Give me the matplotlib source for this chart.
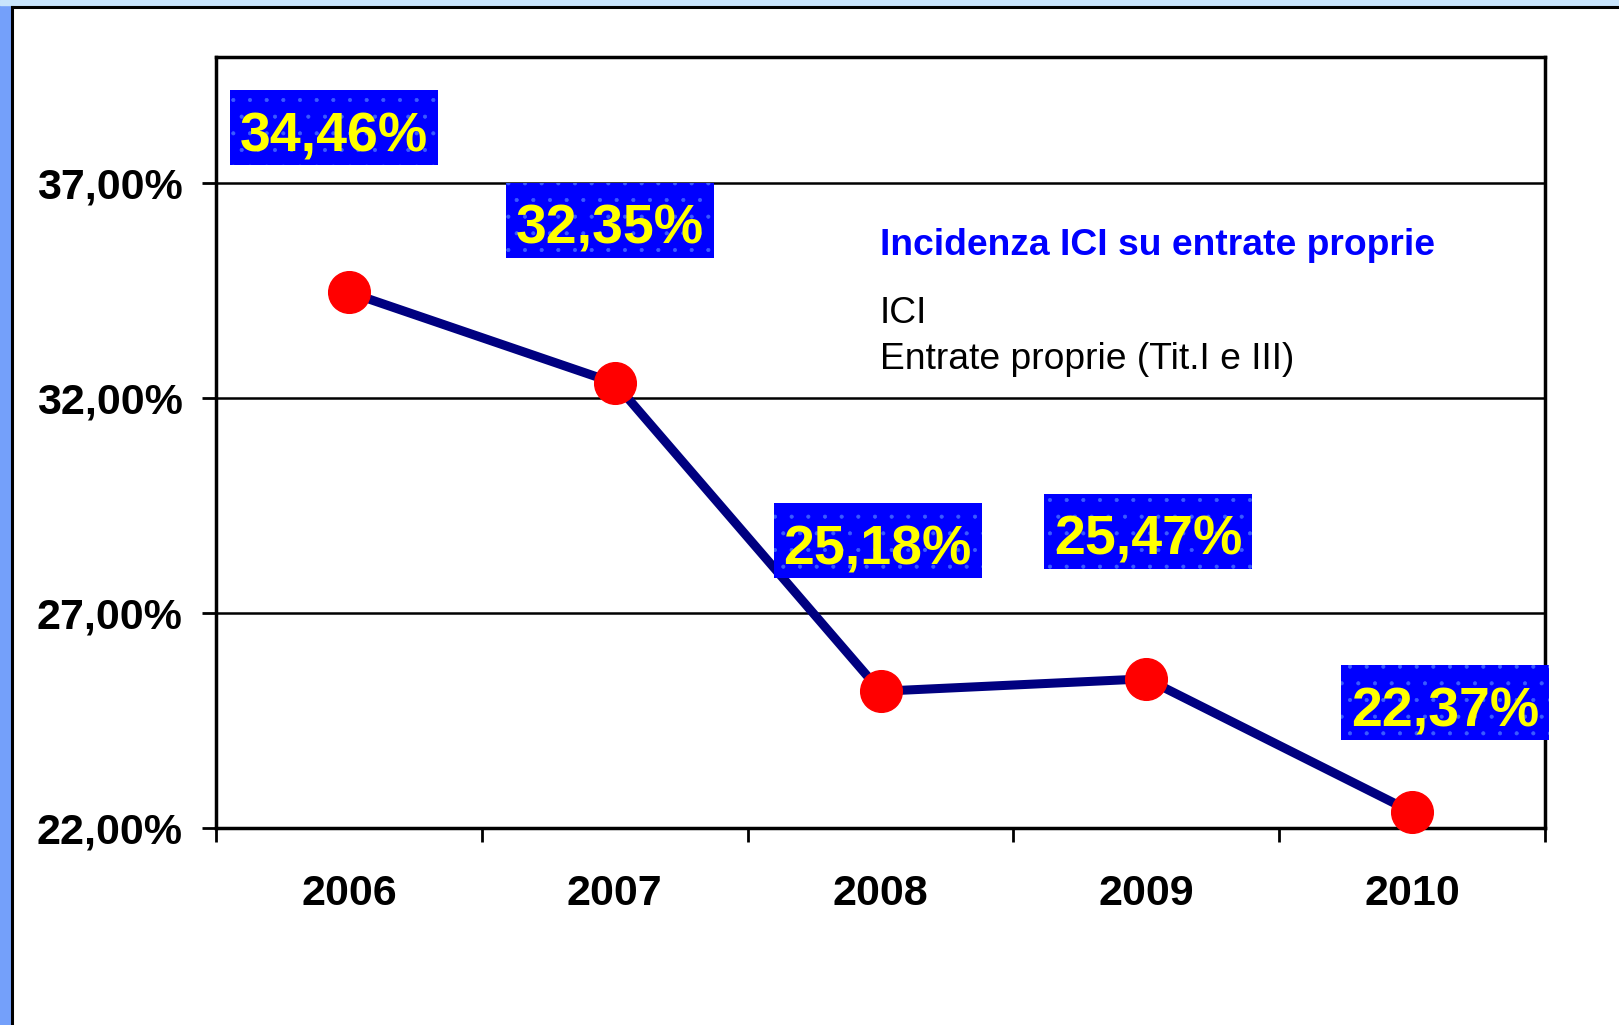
import matplotlib.pyplot as plt
from matplotlib.patches import Rectangle
from matplotlib.transforms import IdentityTransform

plt.rcParams['font.family'] = ['Liberation Sans', 'DejaVu Sans']
plt.rcParams['hatch.linewidth'] = 0.5

# dati
anni = ['2006', '2007', '2008', '2009', '2010']
incidenza = [34.46, 32.35, 25.18, 25.47, 22.37]
etichette = ['34,46%', '32,35%', '25,18%', '25,47%', '22,37%']
yticks = [22, 27, 32, 37]
ytick_labels = ['22,00%', '27,00%', '32,00%', '37,00%']
# spostamento delle etichette rispetto al punto (pixel, linea di base)
offsets = [(-15, 141), (-5, 139), (-3, 127), (2, 124), (33, 86)]

W, H = 1619, 1025
fig = plt.figure(figsize=(W / 100, H / 100), dpi=100)

# cornice della slide
fig.patches.append(Rectangle((0, 0), 10 / W, 1, transform=fig.transFigure,
                             color='#74a0fa', zorder=0))
fig.patches.append(Rectangle((0, 1 - 5 / H), 1, 5 / H, transform=fig.transFigure,
                             color='#c8e4fc', zorder=0))
fig.add_artist(plt.Line2D([11.5 / W, 11.5 / W], [0, 1 - 6.5 / H],
                          transform=fig.transFigure, color='black', lw=2.2))
fig.add_artist(plt.Line2D([11.5 / W, 1], [1 - 6.5 / H, 1 - 6.5 / H],
                          transform=fig.transFigure, color='black', lw=2.2))

ax = fig.add_axes([216 / W, 1 - 828 / H, (1545 - 216) / W, (828 - 57) / H])
x = list(range(len(anni)))
ax.plot(x, incidenza, color='#000080', lw=6.5, marker='o', markersize=30,
        markerfacecolor='red', markeredgecolor='red', zorder=3, clip_on=False)

ax.set_xlim(-0.5, 4.5)
ax.set_ylim(22, 39.93)
ax.set_yticks(yticks)
ax.set_yticklabels(ytick_labels, fontsize=31, fontweight='bold')
ax.set_xticks(x)
ax.set_xticklabels(anni, fontsize=31, fontweight='bold')
ax.tick_params(axis='x', length=0, pad=33)
ax.set_xticks([i - 0.5 for i in range(len(anni) + 1)], minor=True)
ax.tick_params(axis='x', which='minor', length=10, width=2, direction='out')
ax.tick_params(axis='y', length=10, width=2, direction='out', pad=14)
ax.grid(axis='y', color='black', lw=1.8)
ax.set_axisbelow(True)
for s in ax.spines.values():
    s.set_linewidth(2.5)
    s.set_color('black')

# etichette dei valori con riquadro blu
for xi, yi, lab, off in zip(x, incidenza, etichette, offsets):
    px, py = ax.transData.transform((xi, yi))
    cx, by = px + off[0], py + off[1]
    box = Rectangle((cx - 104, by - 14), 208, 75, transform=IdentityTransform(),
                    facecolor='#0000ff', edgecolor='#3a5cff', lw=0, hatch='.',
                    zorder=4)
    fig.patches.append(box)
    fig.text(cx / W, by / H, lab, ha='center', va='baseline', fontsize=40,
             fontweight='bold', color='#ffff00', zorder=5)

fig.text(880 / W, 1 - 255 / H, 'Incidenza ICI su entrate proprie', fontsize=26.8,
         fontweight='bold', color='#0000ff', va='baseline')
fig.text(880 / W, 1 - 323 / H, 'ICI', fontsize=26.8, color='black', va='baseline')
fig.text(880 / W, 1 - 369 / H, 'Entrate proprie (Tit.I e III)', fontsize=26.8,
         color='black', va='baseline')

fig.savefig('out.png', dpi=100)
